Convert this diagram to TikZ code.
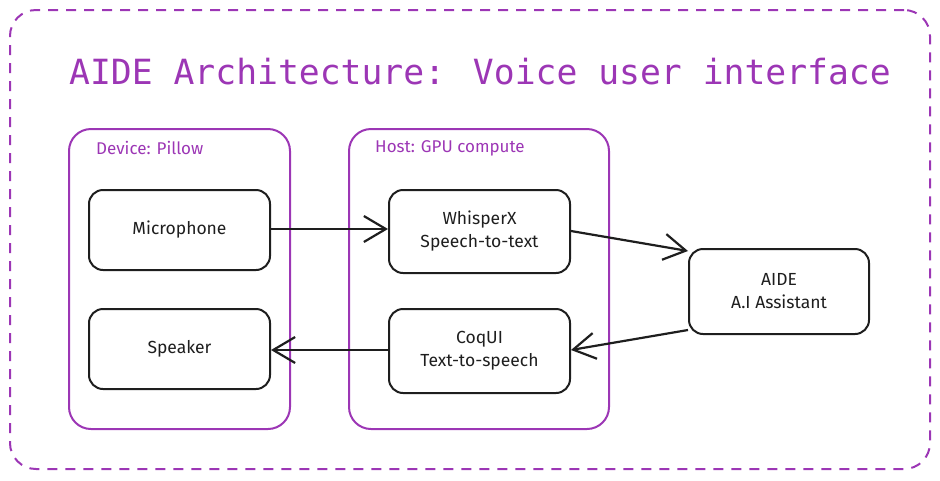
\documentclass[tikz,border=0pt]{standalone}
\usepackage{fontspec}
\setmainfont{Fira Sans}
\newfontfamily\titlefont{DejaVu Sans Mono}
\usetikzlibrary{arrows.meta}
\definecolor{vio}{HTML}{9C36B5}
\definecolor{ink}{HTML}{1E1E1E}
\tikzset{
  box/.style={draw=ink, line width=2pt, rounded corners=14pt, fill=white, align=center, font=\fontsize{17.5}{23}\selectfont, text=ink, inner sep=0pt},
  group/.style={draw=vio, line width=2pt, rounded corners=22pt},
  grouplabel/.style={text=vio, font=\fontsize{17}{20}\selectfont, anchor=west, inner sep=0pt},
  flow/.style={draw=ink, line width=2.2pt, -{Straight Barb[length=22pt,width=26pt,line width=2.2pt]}},
}
\begin{document}
\begin{tikzpicture}[x=1pt,y=-1pt]
\useasboundingbox (0,0) rectangle (940,480);
\node[draw=vio, line width=2pt, dash pattern=on 10pt off 8pt, rounded corners=26pt, minimum width=920pt, minimum height=459pt, inner sep=0pt] (frame) at (470,239.5) {};
\node[text=vio, font=\titlefont\fontsize{34.7}{40}\selectfont, inner sep=0pt] (title) at (480,72) {AIDE Architecture: Voice user interface};
\node[group, minimum width=221pt, minimum height=300pt, inner sep=0pt] (device) at (179.5,279) {};
\node[group, minimum width=260pt, minimum height=300pt, inner sep=0pt] (host) at (479,279) {};
\node[grouplabel] (devlabel) at (96,148) {Device: Pillow};
\node[grouplabel] (hostlabel) at (375,148) {Host: GPU compute};
\node[box, minimum width=181pt, minimum height=80pt] (mic) at (179.5,230) {Microphone};
\node[box, minimum width=181pt, minimum height=80pt] (spk) at (179.5,349) {Speaker};
\node[box, minimum width=181pt, minimum height=83pt] (whisper) at (479.5,231.5) {WhisperX\\Speech-to-text};
\node[box, minimum width=181pt, minimum height=84pt] (coqui) at (479.5,351) {CoqUI\\Text-to-speech};
\node[box, minimum width=180pt, minimum height=85pt] (aide) at (779,291.5) {AIDE\\A.I Assistant};
\draw[flow] (mic.east |- 0,229) -- (whisper.west |- 0,229);
\draw[flow] (whisper.east |- 0,231) -- (aide.north west |- 0,251);
\draw[flow] (aide.west |- 0,330) -- (coqui.east |- 0,350);
\draw[flow] (coqui.west |- 0,350) -- (spk.east |- 0,350);
\end{tikzpicture}
\end{document}
